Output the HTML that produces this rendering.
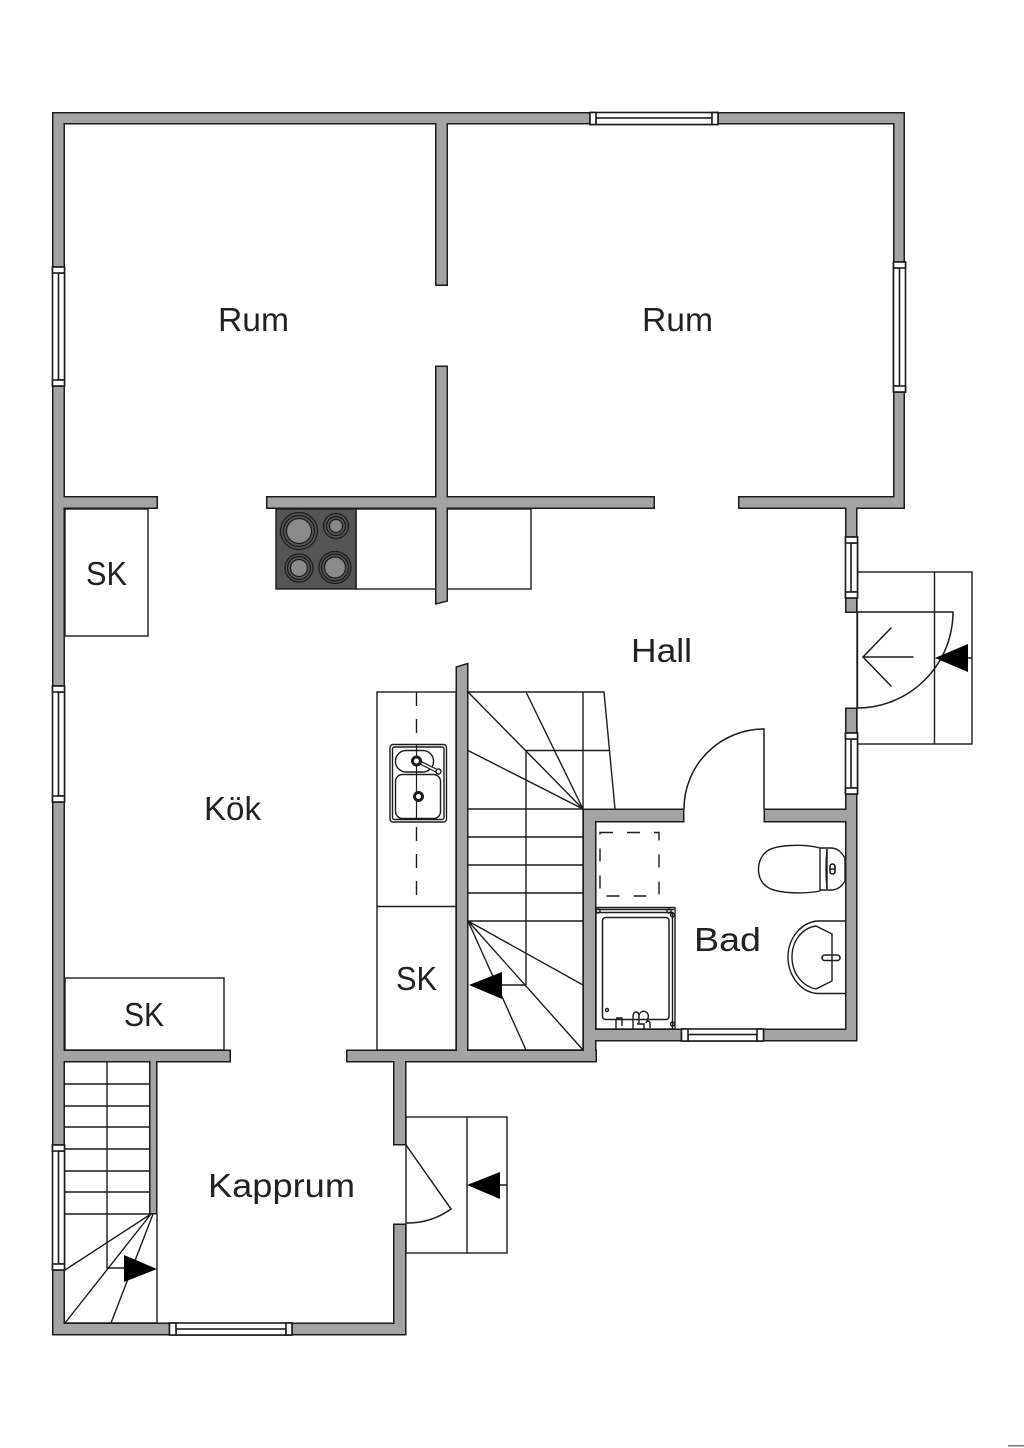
<!DOCTYPE html>
<html>
<head>
<meta charset="utf-8">
<style>
html,body{margin:0;padding:0;background:#fff}
svg{display:block}
text{font-family:"Liberation Sans",sans-serif;font-size:33px;fill:#222}
.l{fill:none;stroke:#1c1c1c;stroke-width:1.4}
.t{fill:none;stroke:#1c1c1c;stroke-width:1.5}
.b{stroke:#1c1c1c;stroke-width:3;fill:#a3a3a3}
.w{fill:#a3a3a3}
.win{fill:#fff;stroke:#1c1c1c;stroke-width:1.6}
</style>
</head>
<body>
<svg width="1024" height="1448" viewBox="0 0 1024 1448" xmlns="http://www.w3.org/2000/svg">
<rect width="1024" height="1448" fill="#fff"/>

<!-- fixtures under walls -->
<g class="l">
<rect x="65" y="509" width="83" height="127"/>
<rect x="65" y="978" width="159" height="72"/>
<rect x="377" y="692" width="79" height="358"/>
<line x1="377" y1="906.500" x2="456" y2="906.500"/>
<path d="M416.500 692V906" stroke-dasharray="14 13"/>
<rect x="356" y="509" width="175" height="80"/>
<!-- entry steps -->
<rect x="857" y="572" width="115" height="172"/>
<line x1="934.500" y1="572" x2="934.500" y2="744"/>
<line x1="857.500" y1="612" x2="857.500" y2="708"/>
<rect x="406" y="1117" width="101" height="136"/>
<line x1="467" y1="1117" x2="467" y2="1253"/>
<!-- main stair -->
<path d="M468 692H604L615 809"/>
<path d="M583 692V809"/>
<path d="M526 985V750.500H609"/>
<path d="M468 692L583 809M526 692L583 809M468 750.500L583 809"/>
<path d="M468 809H583M468 837H583M468 865H583M468 893H583M468 921H583"/>
<path d="M468 921L583 985M468 921L583 1050M468 921L526 1050"/>
<path d="M495 985H526"/>
<path d="M468 1050H583"/>
<path d="M583 809V1050"/>
<!-- lower stair -->
<path d="M65 1084H149M65 1106H149M65 1127H149M65 1149H149M65 1171H149M65 1192H149M65 1214H149"/>
<path d="M107 1062V1268H130"/>
<path d="M157 1214V1323"/>
<path d="M151 1214L65 1270M151 1214L65 1323M153 1214L111 1323"/>
<path d="M65 1323H157"/>
</g>

<!-- stove -->
<rect x="276" y="509" width="80" height="80" fill="#555" stroke="#1c1c1c" stroke-width="1.4"/>
<g stroke="#1c1c1c" stroke-width="1.2" fill="#555">
<circle cx="299" cy="531" r="18.500"/><circle cx="299" cy="531" r="15.500"/><circle cx="299" cy="531" r="12.500" fill="#8a8a8a"/>
<circle cx="336" cy="526" r="12.500"/><circle cx="336" cy="526" r="9.500"/><circle cx="336" cy="526" r="6.500" fill="#8a8a8a"/>
<circle cx="299" cy="568" r="14"/><circle cx="299" cy="568" r="11.500"/><circle cx="299" cy="568" r="8.500" fill="#8a8a8a"/>
<circle cx="335" cy="567.500" r="16"/><circle cx="335" cy="567.500" r="13.500"/><circle cx="335" cy="567.500" r="10.500" fill="#8a8a8a"/>
</g>

<!-- walls -->
<g class="b">
<rect x="53.500" y="113.500" width="850" height="9.500"/>
<rect x="53.500" y="113.500" width="10" height="1220"/>
<rect x="894.500" y="113.500" width="9" height="393"/>
<rect x="53.500" y="497.500" width="103" height="10"/>
<rect x="267.500" y="497.500" width="386" height="10"/>
<rect x="739.500" y="497.500" width="164" height="10"/>
<rect x="436.500" y="113.500" width="10" height="171"/>
<path d="M436.500 367H446.500V600.500L436.500 603Z"/>
<rect x="846.500" y="497.500" width="9.500" height="114"/>
<rect x="846.500" y="709" width="9.500" height="331"/>
<rect x="584" y="810" width="99" height="11"/>
<rect x="765" y="810" width="91" height="11"/>
<rect x="584" y="810" width="11" height="251"/>
<rect x="584" y="1030" width="272" height="10"/>
<path d="M457 667.500L467 664.500V1060H457Z"/>
<rect x="347.500" y="1051" width="248" height="10"/>
<rect x="53.500" y="1051" width="176" height="10"/>
<rect x="394.500" y="1051" width="10.500" height="93"/>
<rect x="394.500" y="1225" width="10.500" height="109"/>
<rect x="53.500" y="1324" width="351.500" height="10"/>
<rect x="150.500" y="1051" width="5.500" height="162"/>
</g>
<g class="w">
<rect x="53.500" y="113.500" width="850" height="9.500"/>
<rect x="53.500" y="113.500" width="10" height="1220"/>
<rect x="894.500" y="113.500" width="9" height="393"/>
<rect x="53.500" y="497.500" width="103" height="10"/>
<rect x="267.500" y="497.500" width="386" height="10"/>
<rect x="739.500" y="497.500" width="164" height="10"/>
<rect x="436.500" y="113.500" width="10" height="171"/>
<path d="M436.500 367H446.500V600.500L436.500 603Z"/>
<rect x="846.500" y="497.500" width="9.500" height="114"/>
<rect x="846.500" y="709" width="9.500" height="331"/>
<rect x="584" y="810" width="99" height="11"/>
<rect x="765" y="810" width="91" height="11"/>
<rect x="584" y="810" width="11" height="251"/>
<rect x="584" y="1030" width="272" height="10"/>
<path d="M457 667.500L467 664.500V1060H457Z"/>
<rect x="347.500" y="1051" width="248" height="10"/>
<rect x="53.500" y="1051" width="176" height="10"/>
<rect x="394.500" y="1051" width="10.500" height="93"/>
<rect x="394.500" y="1225" width="10.500" height="109"/>
<rect x="53.500" y="1324" width="351.500" height="10"/>
<rect x="150.500" y="1051" width="5.500" height="162"/>
</g>

<!-- windows: horizontal -->
<g class="win">
<rect x="590" y="112.500" width="128" height="12"/>
<rect x="596" y="118" width="116" height="6.500"/>
<rect x="590" y="112.500" width="6" height="12"/>
<rect x="712" y="112.500" width="6" height="12"/>
<rect x="681.500" y="1029" width="82" height="12"/>
<rect x="688" y="1034.500" width="69" height="6.500"/>
<rect x="681.500" y="1029" width="6.500" height="12"/>
<rect x="757" y="1029" width="6.500" height="12"/>
<rect x="169.500" y="1323" width="122.500" height="12"/>
<rect x="176" y="1329" width="110" height="6"/>
<rect x="169.500" y="1323" width="6.500" height="12"/>
<rect x="286" y="1323" width="6" height="12"/>
<!-- vertical -->
<rect x="52.500" y="267" width="12" height="119"/>
<rect x="58.500" y="273" width="6" height="107"/>
<rect x="52.500" y="267" width="12" height="6"/>
<rect x="52.500" y="380" width="12" height="6"/>
<rect x="52.500" y="686" width="12" height="116"/>
<rect x="58.500" y="692" width="6" height="104"/>
<rect x="52.500" y="686" width="12" height="6"/>
<rect x="52.500" y="796" width="12" height="6"/>
<rect x="52.500" y="1145" width="12" height="125"/>
<rect x="58.500" y="1151" width="6" height="113"/>
<rect x="52.500" y="1145" width="12" height="6"/>
<rect x="52.500" y="1264" width="12" height="6"/>
<rect x="893.500" y="262" width="12" height="130"/>
<rect x="893.500" y="268" width="6" height="118"/>
<rect x="893.500" y="262" width="12" height="6"/>
<rect x="893.500" y="386" width="12" height="6"/>
<rect x="845.500" y="537" width="12" height="61"/>
<rect x="851" y="543" width="6.500" height="49"/>
<rect x="845.500" y="537" width="12" height="6"/>
<rect x="845.500" y="592" width="12" height="6"/>
<rect x="845.500" y="733" width="12" height="61"/>
<rect x="851" y="739" width="6.500" height="49"/>
<rect x="845.500" y="733" width="12" height="6"/>
<rect x="845.500" y="788" width="12" height="6"/>
</g>

<!-- doors -->
<g class="t">
<path d="M684 809A80 80 0 0 1 764 729V809"/>
<path d="M857 612H953A96 96 0 0 1 857 708"/>
<path d="M406 1145L451 1209A75 75 0 0 1 406 1223"/>
</g>
<g class="t" stroke-linecap="round">
<path d="M913 657H864M891 628L863 657L891 686"/>
</g>
<path d="M968 658H972M500 1185H507" class="l"/>

<!-- arrows -->
<g fill="#000">
<path d="M935 658L968 644V672Z"/>
<path d="M467 1185L500 1172V1199Z"/>
<path d="M469 985L502 972V999Z"/>
<path d="M157 1269L124 1255V1282Z"/>
</g>

<!-- sink -->
<g>
<rect x="390" y="744.500" width="56.500" height="77.500" rx="3" fill="#fff" stroke="#1c1c1c" stroke-width="1.4"/>
<rect x="392.500" y="747" width="51.500" height="72.500" rx="2" fill="none" stroke="#1c1c1c" stroke-width="1.4"/>
<rect x="395.500" y="750.500" width="38" height="21.500" rx="10.500" fill="none" stroke="#1c1c1c" stroke-width="1.4"/>
<rect x="395.500" y="774.500" width="45" height="44" rx="7" fill="none" stroke="#1c1c1c" stroke-width="1.4"/>
<path d="M416.500 744.500V818" fill="none" stroke="#1c1c1c" stroke-width="1.2"/>
<path d="M417 761L438 771.500" stroke="#1c1c1c" stroke-width="4"/>
<path d="M417 761L438 771.500" stroke="#fff" stroke-width="1.6"/>
<circle cx="438.500" cy="771.500" r="2.500" fill="#fff" stroke="#1c1c1c" stroke-width="1.4"/>
<circle cx="416.500" cy="761" r="4" fill="#fff" stroke="#1c1c1c" stroke-width="3"/>
<circle cx="418.500" cy="796.500" r="4" fill="#fff" stroke="#1c1c1c" stroke-width="3"/>
</g>

<!-- bathroom -->
<g class="t">
<rect x="600" y="832.500" width="59" height="63.500" stroke-dasharray="13 14" stroke-width="1.4"/>
<rect x="602.500" y="917.500" width="66.500" height="102" rx="3"/>
</g>
<g class="l">
<rect x="596" y="907.500" width="79" height="121.500"/>
<path d="M596 912.500H672.500V1029M596 909.500H674"/>
<circle cx="598" cy="911" r="2"/><circle cx="669" cy="911" r="2"/><circle cx="672.500" cy="915" r="2"/><circle cx="672.500" cy="1024" r="2"/><circle cx="607" cy="1010" r="1.500"/>
<path d="M616 1019V1029M616 1018H622L622 1026M633 1029V1017Q633 1012 636 1012Q639 1012 639 1017V1024M639 1019C638 1012 643 1010 646 1012C650 1014 648 1020 646 1023M646 1022Q650 1020 650 1024V1028M637 1024H644V1029"/>
</g>
<g class="l">
<path d="M820 848C805 844 775 844 766 852C756 860 756 879 766 886C775 894 805 894 820 891"/>
<path d="M820 848V891M827 849V889"/>
<path d="M820 848H831C838 848 842 853 845 858V881C842 886 838 890 831 890H820"/>
<path d="M827 849Q825 869 827 889"/>
<rect x="830" y="864" width="5" height="10" rx="2.500" stroke-width="1.6"/>
<path d="M830 869H835"/>
<path d="M845 921H817C800 923 788 939 788 957C788 975 800 992 817 993.500H845"/>
<path d="M816 926C802 928 792 941 792 957C792 973 802 986 816 989L832 981V934Z"/>
<rect x="822" y="955" width="18" height="5.500" rx="2.750" stroke-width="1.6"/>
</g>

<!-- labels -->
<text x="218" y="331" textLength="71" lengthAdjust="spacingAndGlyphs">Rum</text>
<text x="642" y="331" textLength="71" lengthAdjust="spacingAndGlyphs">Rum</text>
<text x="631" y="662" textLength="61" lengthAdjust="spacingAndGlyphs">Hall</text>
<text x="204" y="820" textLength="57" lengthAdjust="spacingAndGlyphs">Kök</text>
<text x="86" y="585" textLength="41" lengthAdjust="spacingAndGlyphs">SK</text>
<text x="396" y="990" textLength="41" lengthAdjust="spacingAndGlyphs">SK</text>
<text x="124" y="1026" textLength="40" lengthAdjust="spacingAndGlyphs">SK</text>
<text x="694" y="951" textLength="67" lengthAdjust="spacingAndGlyphs">Bad</text>
<text x="208" y="1197" textLength="147" lengthAdjust="spacingAndGlyphs">Kapprum</text>

<rect x="1008" y="1445" width="16" height="1.500" fill="#777"/>
</svg>
</body>
</html>
